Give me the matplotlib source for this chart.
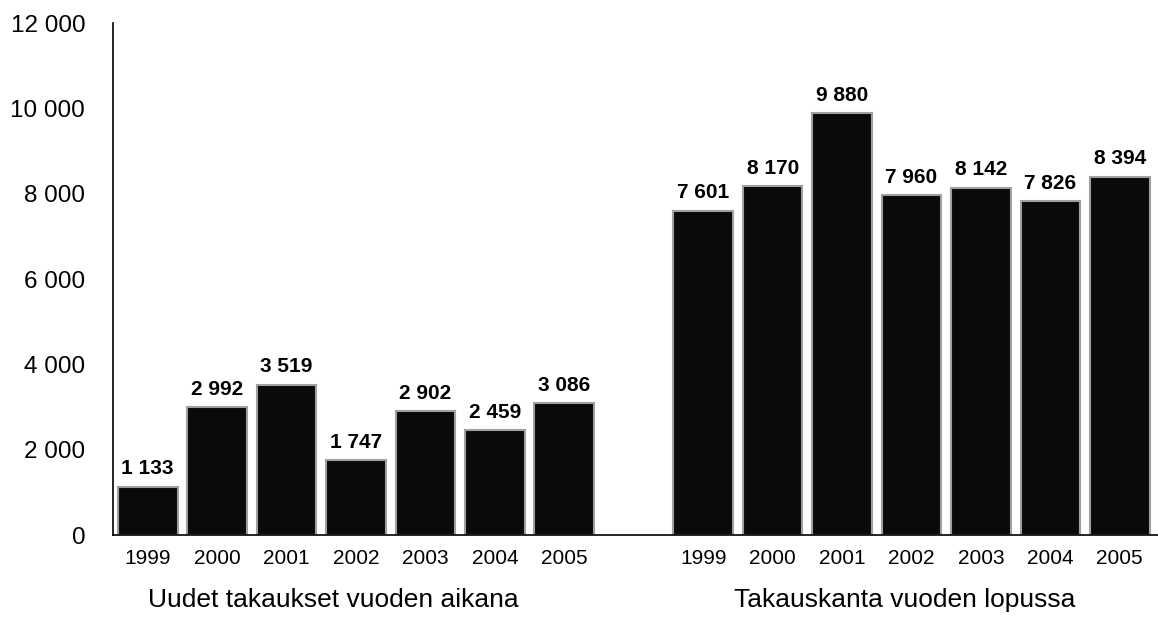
import numpy as np
import matplotlib.pyplot as plt
from matplotlib import font_manager

years = ["1999", "2000", "2001", "2002", "2003", "2004", "2005"]
new_guarantees = [1133, 2992, 3519, 1747, 2902, 2459, 3086]
guarantee_stock = [7601, 8170, 9880, 7960, 8142, 7826, 8394]
group_titles = ["Uudet takaukset vuoden aikana", "Takauskanta vuoden lopussa"]
y_ticks = [0, 2000, 4000, 6000, 8000, 10000, 12000]

names = {f.name for f in font_manager.fontManager.ttflist}
narrow = "Liberation Sans Narrow" if "Liberation Sans Narrow" in names else "Liberation Sans"
plt.rcParams["font.family"] = ["Liberation Sans", "DejaVu Sans"]


def fmt(v):
    return f"{v:,}".replace(",", " ")


fig = plt.figure(figsize=(11.58, 6.27), dpi=100)
ax = fig.add_axes([113 / 1158, 92 / 627, 1045 / 1158, 512 / 627])

pos1 = np.arange(len(years))
pos2 = pos1 + len(years) + 1

for pos, vals in [(pos1, new_guarantees), (pos2, guarantee_stock)]:
    ax.bar(pos, vals, width=0.86, color="#0a0a0a", edgecolor="#a0a0a0", linewidth=1.5)
    for x, v in zip(pos, vals):
        ax.text(x, v + 200, fmt(v), ha="center", va="bottom",
                fontsize=15, fontweight="bold")

ax.set_xlim(-0.5, pos2[-1] + 0.55)
ax.set_ylim(0, 12000)
ax.set_yticks(y_ticks)
ax.set_yticklabels([fmt(t) for t in y_ticks], fontsize=17.5)
ax.set_xticks(np.concatenate([pos1, pos2]))
ax.set_xticklabels(years + years, fontsize=15)
ax.tick_params(axis="both", length=0)
ax.tick_params(axis="y", pad=20)
ax.tick_params(axis="x", pad=10)

for s in ["top", "right"]:
    ax.spines[s].set_visible(False)
for s in ["left", "bottom"]:
    ax.spines[s].set_linewidth(1.2)

title_x = [pos1.mean() - 0.32, pos2.mean() - 0.1]
for x, title in zip(title_x, group_titles):
    ax.text(x, -0.126, title, transform=ax.get_xaxis_transform(),
            ha="center", va="center", fontsize=19, family=[narrow, "DejaVu Sans"])

fig.savefig("out.png", dpi=100)
